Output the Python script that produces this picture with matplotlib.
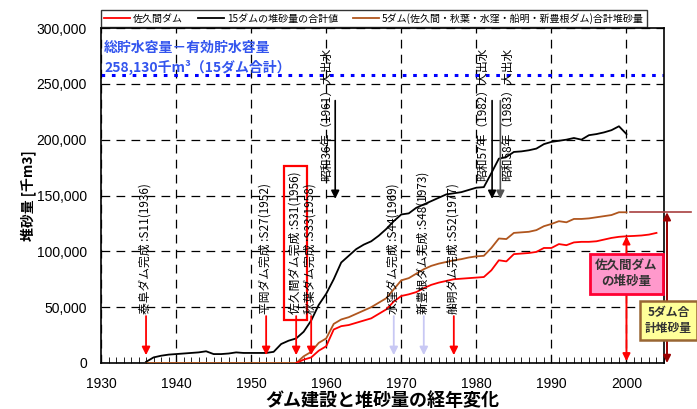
import matplotlib
matplotlib.use("Agg")
import matplotlib.pyplot as plt
from matplotlib.lines import Line2D

plt.rcParams['font.family'] = ['Noto Sans CJK JP', 'DejaVu Sans']

# ---------------- data ----------------
years_total = list(range(1936, 2001))
total_15 = [1000, 5000, 6500, 7500, 8000, 8500, 9000, 9500, 10500, 8000,
            8000, 8500, 9500, 9000, 9000, 9000, 9000, 10000, 17000, 20000,
            22000, 28000, 38000, 52000, 62000, 75000, 90000, 96000, 102000, 106000,
            109000, 114000, 120000, 127000, 133000, 134000, 139000, 142000, 145000, 148000,
            151000, 152000, 153000, 155000, 157000, 157500, 170000, 183000, 184500, 189000,
            189500, 190500, 192000, 196000, 198000, 199000, 200000, 201500, 200000, 204000,
            205000, 206500, 208500, 212000, 205000]

years_sakuma = list(range(1956, 2005))
sakuma = [0, 3000, 5000, 11000, 15000, 30000, 33000, 34000, 36000, 38000,
          40000, 44000, 48000, 55000, 60000, 61500, 63500, 67000, 70000, 72000,
          73500, 75000, 75500, 76000, 76500, 77000, 83000, 92000, 91000, 97500,
          98000, 98500, 99500, 103000, 103000, 106500, 105500, 108000, 108500, 108500,
          109000, 110500, 112000, 113000, 113500, 113800, 114200, 115000, 116500]

years_five = list(range(1936, 2001))
five_dams = [0] * 20 + [
    0, 6000, 10000, 18000, 22000, 35000, 39000, 41000, 44000, 47000,
    50000, 54000, 58000, 66000, 74000, 76000, 80000, 84000, 87000, 89000,
    90500, 92000, 93000, 94500, 95500, 96000, 103000, 111500, 111000, 116500,
    117000, 117500, 119000, 122500, 124500, 127000, 126000, 129000, 129000, 129500,
    130500, 131500, 132500, 135000, 135000]

capacity_line = 258130

dam_years = [1936, 1952, 1956, 1958, 1969, 1973, 1977]
dam_labels = ["泰阜ダム完成 :S11(1936)", "平岡ダム完成 :S27(1952)",
              "佐久間ダム完成 :S31(1956)", "秋葉ダム完成 :S33(1958)",
              "水窪ダム完成 :S44(1969)", "新豊根ダム完成 :S48(1973)",
              "船明ダム完成 :S52(1977)"]
dam_arrow_colors = ['red', 'red', 'red', 'red', '#c8c8f4', '#c8c8f4', 'red']

flood_years = [1961, 1982, 1983]
flood_labels = ["昭和36年（1961）大出水", "昭和57年（1982）大出水", "昭和58年（1983）大出水"]

series_names = ["佐久間ダム", "15ダムの堆砂量の合計値",
                "5ダム(佐久間・秋葉・水窪・船明・新豊根ダム)合計堆砂量"]

RED = '#ff0000'
BROWN = '#b0561e'
BLUE = '#0000ff'

# ---------------- figure ----------------
fig = plt.figure(figsize=(6.97, 4.09), dpi=100)
ax = fig.add_axes([101/697, 46/409, 563/697, 335/409])

ax.plot(years_five, five_dams, color=BROWN, lw=1.3, zorder=3)
ax.plot(years_sakuma, sakuma, color=RED, lw=1.3, zorder=4)
ax.plot(years_total, total_15, color='black', lw=1.3, zorder=4)

ax.set_xlim(1930, 2005)
ax.set_ylim(0, 300000)
ax.set_xticks(range(1930, 2001, 10))
ax.set_xticks(range(1930, 2006, 1), minor=True)
ax.set_yticks(range(0, 300001, 50000))
ax.set_yticklabels([f"{v:,}" for v in range(0, 300001, 50000)], fontsize=10,
                   family=['Liberation Sans', 'DejaVu Sans'])
ax.set_xticklabels([str(y) for y in range(1930, 2001, 10)], fontsize=10,
                   family=['Liberation Sans', 'DejaVu Sans'])
ax.tick_params(axis='x', which='both', direction='in', top=False, pad=10)
ax.tick_params(axis='x', which='major', length=6)
ax.tick_params(axis='x', which='minor', length=4)
ax.tick_params(axis='y', direction='in', length=0, pad=10)
ax.grid(True, which='major', color='black', lw=0.9, ls=(0, (7, 5)))
for s in ax.spines.values():
    s.set_linewidth(1.2)

# capacity line
ax.axhline(capacity_line, color=BLUE, lw=2.2, ls=(0, (1.2, 2.2)), zorder=2)
ax.text(1930.4, 282000, "総貯水容量－有効貯水容量", color='#3355ee',
        fontsize=10, fontweight='bold', va='center', ha='left')
ax.text(1930.4, 265000, "258,130千m³（15ダム合計）", color='#3355ee',
        fontsize=10, fontweight='bold', va='center', ha='left')

# dam completion labels and arrows
for yr, lab, col in zip(dam_years, dam_labels, dam_arrow_colors):
    ax.annotate('', xy=(yr, 7000), xytext=(yr, 42000),
                arrowprops=dict(arrowstyle='-|>', color=col, lw=1.3,
                                mutation_scale=12, shrinkA=0, shrinkB=0), zorder=5)
    kw = {}
    if yr == 1956:
        kw['bbox'] = dict(boxstyle='square,pad=0.45', fc='none', ec='red', lw=1.6)
    ax.text(yr - 0.1, 43500, lab, rotation=90, ha='center', va='bottom',
            fontsize=8.5, color='black', zorder=6, **kw)

# flood arrows
flood_text_x = [1960.0, 1980.8, 1984.2]
flood_arrow_x = [1961.2, 1982.1, 1983.2]
flood_colors = ['black', 'black', '#555555']
for tx, axx, lab, col in zip(flood_text_x, flood_arrow_x, flood_labels, flood_colors):
    ax.annotate('', xy=(axx, 147000), xytext=(axx, 235000),
                arrowprops=dict(arrowstyle='-|>', color=col, lw=1.2,
                                mutation_scale=12, shrinkA=0, shrinkB=0), zorder=5)
    ax.text(tx, 282000, lab, rotation=90, ha='center', va='top',
            fontsize=8.5, color='black', zorder=6)

# Sakuma deposition double arrow
ax.annotate('', xy=(2000, 113500), xytext=(2000, 1500),
            arrowprops=dict(arrowstyle='<|-|>', color=RED, lw=1.4,
                            mutation_scale=11, shrinkA=0, shrinkB=0), zorder=5)
ax.text(2000, 80000, "佐久間ダム\nの堆砂量", ha='center', va='center', fontsize=9,
        fontweight='bold', color='#333333', linespacing=1.3, zorder=7,
        bbox=dict(boxstyle='square,pad=0.45', fc='#ff99cc', ec='#ff0033', lw=2))

# 5 dams double arrow (outside axes)
ax.plot([2000.5, 2008.6], [135000, 135000], color='#a84040', lw=1.2,
        clip_on=False, zorder=5)
ax.annotate('', xy=(2005.4, 135000), xytext=(2005.4, 0),
            arrowprops=dict(arrowstyle='<|-|>', color='#990000', lw=1.4,
                            mutation_scale=11, shrinkA=0, shrinkB=0),
            annotation_clip=False, zorder=5)
ax.text(2005.6, 38000, "5ダム合\n計堆砂量", ha='center', va='center', fontsize=8.5,
        fontweight='bold', color='#333333', linespacing=1.3, zorder=7, clip_on=False,
        bbox=dict(boxstyle='square,pad=0.45', fc='#ffff99', ec='#996633', lw=1.8))

# legend
handles = [Line2D([], [], color=RED, lw=1.3),
           Line2D([], [], color='black', lw=1.3),
           Line2D([], [], color=BROWN, lw=1.3)]
leg = ax.legend(handles, series_names, ncol=3, loc='lower left',
                bbox_to_anchor=(0, 1.003), borderaxespad=0, fontsize=7.2,
                frameon=True, fancybox=False, handlelength=2.6,
                handletextpad=0.3, columnspacing=1.5, borderpad=0.3)
leg.get_frame().set_edgecolor('black')
leg.get_frame().set_linewidth(1.0)

ax.set_ylabel("堆砂量 [千m3]", fontsize=10, fontweight='bold')
ax.yaxis.set_label_coords(-0.115, 0.5)
ax.set_xlabel("ダム建設と堆砂量の経年変化", fontsize=13, fontweight='bold', labelpad=0)

fig.savefig("out.png", dpi=100)
